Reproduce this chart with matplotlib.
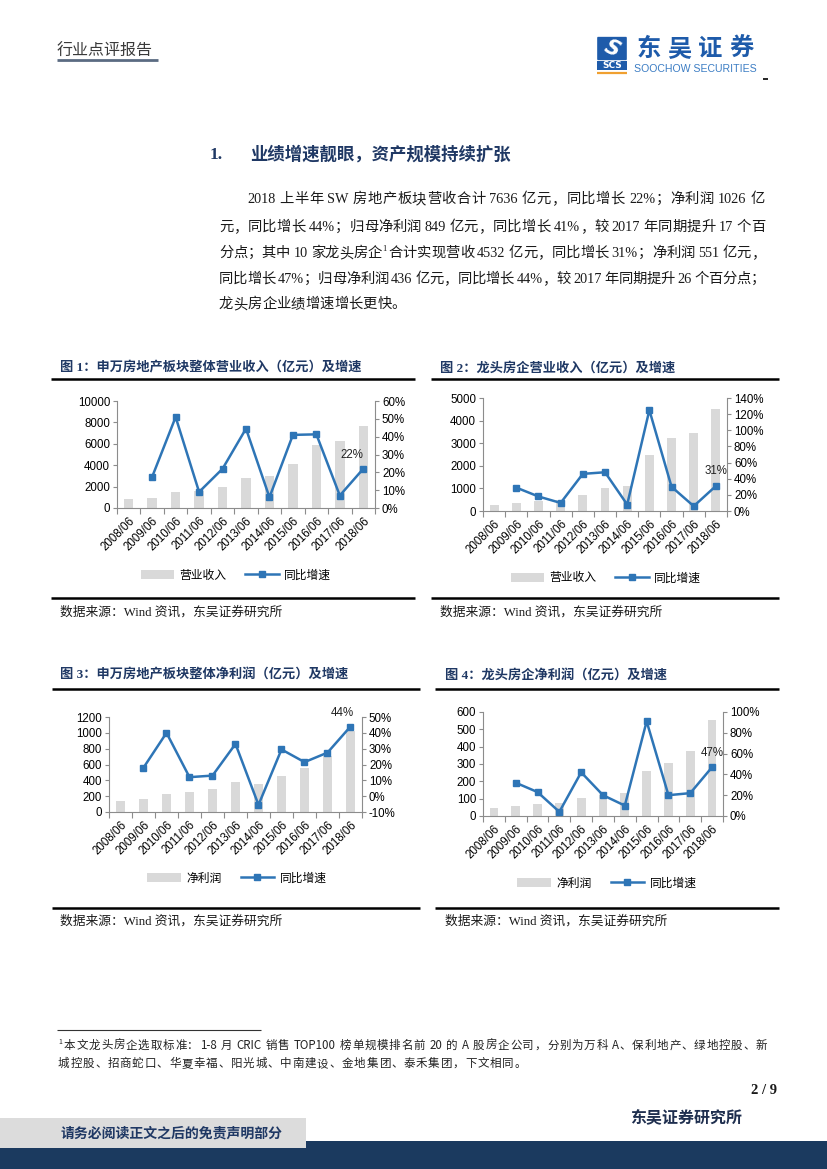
import re
import numpy as np
import matplotlib
matplotlib.use("Agg")
import matplotlib.pyplot as plt
from matplotlib.lines import Line2D
from matplotlib.patches import Rectangle, Patch, FancyBboxPatch
from matplotlib.ticker import FuncFormatter

# ---------------- data ----------------
periods = ["2008/06", "2009/06", "2010/06", "2011/06", "2012/06", "2013/06",
           "2014/06", "2015/06", "2016/06", "2017/06", "2018/06"]

sw_revenue = [850, 980, 1450, 1580, 1920, 2800, 2950, 4150, 5850, 6250, 7636]
sw_revenue_yoy = [np.nan, 17.5, 51, 9, 22, 44.5, 6, 41, 41.3, 7, 22]

top_revenue = [280, 370, 440, 480, 700, 1010, 1090, 2480, 3240, 3440, 4532]
top_revenue_yoy = [np.nan, 29, 18, 10, 46, 48, 8, 125, 30, 6, 31]

sw_profit = [140, 165, 230, 255, 285, 380, 355, 460, 560, 710, 1026]
sw_profit_yoy = [np.nan, 18, 40, 12, 13, 33, -5.5, 29.5, 21.5, 27.5, 44]

top_profit = [45, 57, 70, 73, 103, 123, 135, 258, 308, 375, 551]
top_profit_yoy = [np.nan, 32, 23, 4, 42, 20, 10, 91, 20, 22, 47]

bar_names = ["营业收入", "营业收入", "净利润", "净利润"]
line_name = "同比增速"
point_labels = ["22%", "31%", "44%", "47%"]

titles = ["图 1：申万房地产板块整体营业收入（亿元）及增速",
          "图 2：龙头房企营业收入（亿元）及增速",
          "图 3：申万房地产板块整体净利润（亿元）及增速",
          "图 4：龙头房企净利润（亿元）及增速"]
source_text = "数据来源：Wind 资讯，东吴证券研究所"

heading_num = "1."
heading = "业绩增速靓眼，资产规模持续扩张"
para_lines = [
    "2018 上半年 SW 房地产板块营收合计 7636 亿元，同比增长 22%；净利润 1026 亿",
    "元，同比增长 44%；归母净利润 849 亿元，同比增长 41%，较 2017 年同期提升 17 个百",
    "分点；其中 10 家龙头房企¹合计实现营收 4532 亿元，同比增长 31%；净利润 551 亿元，",
    "同比增长 47%；归母净利润 436 亿元，同比增长 44%，较 2017 年同期提升 26 个百分点；",
    "龙头房企业绩增速增长更快。",
]
footnote_lines = [
    "¹本文龙头房企选取标准：1-8 月 CRIC 销售 TOP100 榜单规模排名前 20 的 A 股房企公司，分别为万科 A、保利地产、绿地控股、新",
    "城控股、招商蛇口、华夏幸福、阳光城、中南建设、金地集团、泰禾集团，下文相同。",
]

# ---------------- page ----------------
W, H, DPI = 827, 1169, 100
fig = plt.figure(figsize=(W / DPI, H / DPI), dpi=DPI)
fig.patch.set_facecolor("white")
renderer = fig.canvas.get_renderer()

SERIF = ["Liberation Serif", "Noto Sans CJK SC"]
SANS = ["Liberation Sans", "Noto Sans CJK SC"]
CJK = ["Noto Sans CJK SC", "DejaVu Sans"]
NAVY = "#1F3864"
BLUE = "#2E75B6"
GREY_BAR = "#D9D9D9"
SPINE = "#8C8C8C"


def fx(x):
    return x / W


def fy(y):
    return 1 - y / H


def T(x, y, s, **kw):
    return fig.text(fx(x), fy(y), s, **kw)


def hline(x0, x1, y, color="black", lw=1.0):
    fig.add_artist(Line2D([fx(x0), fx(x1)], [fy(y), fy(y)], transform=fig.transFigure,
                          color=color, lw=lw, solid_capstyle="butt"))


def rect(x0, y0, x1, y1, color, z=0):
    fig.add_artist(Rectangle((fx(x0), fy(y1)), (x1 - x0) / W, (y1 - y0) / H,
                             transform=fig.transFigure, facecolor=color,
                             edgecolor="none", zorder=z))


def text_width(s, size, family, weight="normal"):
    t = fig.text(0, 0, s, fontsize=size, family=family, weight=weight)
    w = t.get_window_extent(renderer).width
    t.remove()
    return w


def justify(x0, x1, ybase, s, size, family, do_justify=True, color="black",
            weight="normal", fixed_extra=None):
    em = size * DPI / 72.0
    toks = re.findall(r"¹|[!-~]+| +|[^\x00-\x7f]", s)
    items = []
    for tk in toks:
        if tk == "¹":
            items.append((tk, 0.45 * em, "sup"))
        elif tk.startswith(" "):
            items.append((tk, 0.22 * em * len(tk), "space"))
        elif ord(tk[0]) > 0x7f:
            items.append((tk, em, "cjk"))
        else:
            items.append((tk, text_width(tk, size, family, weight), "asc"))
    total = sum(w for _, w, _ in items)
    gaps = len(items) - 1
    if fixed_extra is not None:
        extra = fixed_extra
    else:
        extra = (x1 - x0 - total) / gaps if (do_justify and gaps > 0) else 0.0
    x = x0
    for tk, w, kind in items:
        if kind == "sup":
            T(x + 0.05 * em, ybase - 0.45 * em, "1", fontsize=size * 0.6, family=family,
              va="baseline", ha="left", color=color)
        elif kind != "space":
            T(x, ybase, tk, fontsize=size, family=family, va="baseline", ha="left",
              color=color, weight=weight)
        x += w + extra
    return extra


# header
T(57, 51, "行业点评报告", fontsize=11.5, family=CJK, color="#3A3A3A", va="center", ha="left")
hline(57, 158, 60, color="#5B6B82", lw=2.0)

# logo
fig.add_artist(FancyBboxPatch((fx(598), fy(59)), 28 / W, 21 / H, boxstyle="round,pad=0.001",
                              transform=fig.transFigure, facecolor="#1E5BAA", edgecolor="none"))
T(612, 48.5, "S", fontsize=15, family=["DejaVu Sans"], weight="bold", style="italic",
  color="white", ha="center", va="center", rotation=-25)
rect(597, 61, 627, 70, "#1E5BAA")
T(612, 65.8, "SCS", fontsize=6.5, family=["DejaVu Sans"], weight="bold", color="white",
  ha="center", va="center")
hline(597, 627, 72.5, color="#F0A030", lw=1.6)
for i, ch in enumerate("东吴证券"):
    T(633 + 15.5 + 31 * i, 49, ch, fontsize=17.5, family=CJK, weight="bold", color="#1E5BAA",
      ha="center", va="center")
T(695, 68.5, "SOOCHOW SECURITIES", fontsize=7.6, family=["Liberation Sans"], color="#3C7DC4",
  ha="center", va="center")
hline(763, 768, 78.5, color="black", lw=1.2)

# section heading
T(210, 155, heading_num, fontsize=12.5, family=SERIF, weight="bold", color=NAVY, va="center")
T(250, 155, heading, fontsize=12.5, family=CJK, weight="bold", color=NAVY, va="center")

# paragraph
para_base = [203, 231, 257, 283, 308]
extras = []
for i, ln in enumerate(para_lines):
    xs0 = 247 if i == 0 else 219
    last = i == len(para_lines) - 1
    e = justify(xs0, 765, para_base[i], ln, 10.3, SERIF, do_justify=not last,
                color="#1A1A1A", fixed_extra=(float(np.mean(extras)) if last else None))
    extras.append(e)

# figure titles, rules and sources
title_pos = [(60, 368), (440, 368), (60, 675), (445, 675)]
rule_spans = [(51, 415, 379, 598), (431, 779, 379, 598), (52, 420, 689, 908), (435, 779, 689, 908)]
src_y = [612, 612, 921, 921]
for k in range(4):
    tx, ty = title_pos[k]
    T(tx, ty, titles[k], fontsize=9.5, family=SERIF, weight="bold", color=NAVY, va="center")
    xa, xb, yt, yb = rule_spans[k]
    hline(xa, xb, yt, lw=1.8)
    hline(xa, xb, yb, lw=1.8)
    T(tx, src_y[k], source_text, fontsize=9.2, family=SERIF, color="#1A1A1A", va="center")


# ---------------- charts ----------------
def pct(v, _):
    return f"{v:.0f}%"


def chart(box, bars, yoy, lmax, lstep, rlim, rstep, bar_name, lab, lab_off, leg_c):
    x0, x1, yt, yb = box
    ax = fig.add_axes([fx(x0), fy(yb), (x1 - x0) / W, (yb - yt) / H])
    xs = np.arange(len(periods))
    ax.bar(xs, bars, width=0.4, color=GREY_BAR, zorder=2)
    ax.set_xlim(-0.5, len(xs) - 0.5)
    ax.set_ylim(0, lmax)
    ax.set_yticks(np.arange(0, lmax + lstep / 2, lstep))
    ax.set_xticks(xs)
    ax.set_xticklabels(periods, rotation=45, ha="right", rotation_mode="anchor",
                       fontsize=8.3, family=SANS)
    ax.set_xticks(np.arange(-0.5, len(xs), 1), minor=True)
    ax.tick_params(axis="x", which="major", length=0, pad=5)
    ax.tick_params(axis="x", which="minor", length=4, color=SPINE, width=0.8)
    ax.tick_params(axis="y", length=3, color=SPINE, width=0.8, labelsize=8.3, pad=2)
    for lbl in ax.get_yticklabels():
        lbl.set_family(SANS)
    for s in ["top", "right"]:
        ax.spines[s].set_visible(False)
    for s in ["left", "bottom"]:
        ax.spines[s].set_color(SPINE)
        ax.spines[s].set_linewidth(0.8)

    ax2 = ax.twinx()
    ax2.plot(xs, yoy, color=BLUE, lw=1.8, marker="s", ms=4.2, zorder=3)
    ax2.set_ylim(*rlim)
    ax2.set_yticks(np.arange(rlim[0], rlim[1] + rstep / 2, rstep))
    ax2.yaxis.set_major_formatter(FuncFormatter(pct))
    ax2.tick_params(axis="y", length=3, color=SPINE, width=0.8, labelsize=8.3, pad=2)
    for lbl in ax2.get_yticklabels():
        lbl.set_family(SANS)
    for s in ["top", "left", "bottom"]:
        ax2.spines[s].set_visible(False)
    ax2.spines["right"].set_color(SPINE)
    ax2.spines["right"].set_linewidth(0.8)
    ax2.annotate(lab, (xs[-1], yoy[-1]), xytext=lab_off, textcoords="offset pixels",
                 ha="center", va="center", fontsize=8.3, family=SANS, color="#222222")

    handles = [Patch(facecolor=GREY_BAR, edgecolor="none"),
               Line2D([], [], color=BLUE, lw=1.8, marker="s", ms=4.2)]
    fig.legend(handles, [bar_name, line_name], loc="center",
               bbox_to_anchor=(fx(leg_c[0]), fy(leg_c[1])), ncol=2, frameon=False,
               prop={"family": CJK, "size": 8.5}, handlelength=2.8, handleheight=0.8,
               columnspacing=1.6, handletextpad=0.5)


chart((117, 375, 401, 508), sw_revenue, sw_revenue_yoy, 10000, 2000, (0, 60), 10,
      bar_names[0], point_labels[0], (-11, 14), (236, 575))
chart((483, 727, 398, 511), top_revenue, top_revenue_yoy, 5000, 1000, (0, 140), 20,
      bar_names[1], point_labels[1], (0, 15), (606, 578))
chart((109, 362, 717, 812), sw_profit, sw_profit_yoy, 1200, 200, (-10, 50), 10,
      bar_names[2], point_labels[2], (-8, 14), (237, 878))
chart((483, 723, 712, 816), top_profit, top_profit_yoy, 600, 100, (0, 100), 20,
      bar_names[3], point_labels[3], (0, 14), (607, 883))

# ---------------- footer ----------------
hline(57, 261, 1030, color="#333333", lw=0.8)
fe = justify(58, 767, 1049, footnote_lines[0], 8.3, CJK, do_justify=True, color="#222222")
justify(58, 767, 1067, footnote_lines[1], 8.3, CJK, do_justify=False, color="#222222",
        fixed_extra=fe)
T(777, 1090, "2 / 9", fontsize=10.5, family=["Liberation Serif"], weight="bold", ha="right",
  va="center", color="#1A1A1A")
T(742, 1117, "东吴证券研究所", fontsize=11.5, family=CJK, weight="bold", ha="right",
  va="center", color="#1F2F4F")
rect(0, 1141, W, H, "#1B3A5F", z=1)
rect(0, 1118, 306, 1148, "#DCDCDC", z=2)
T(61, 1133, "请务必阅读正文之后的免责声明部分", fontsize=10, family=CJK, weight="bold",
  color=NAVY, va="center", ha="left", zorder=3)

fig.savefig("out.png", dpi=DPI, facecolor="white")
